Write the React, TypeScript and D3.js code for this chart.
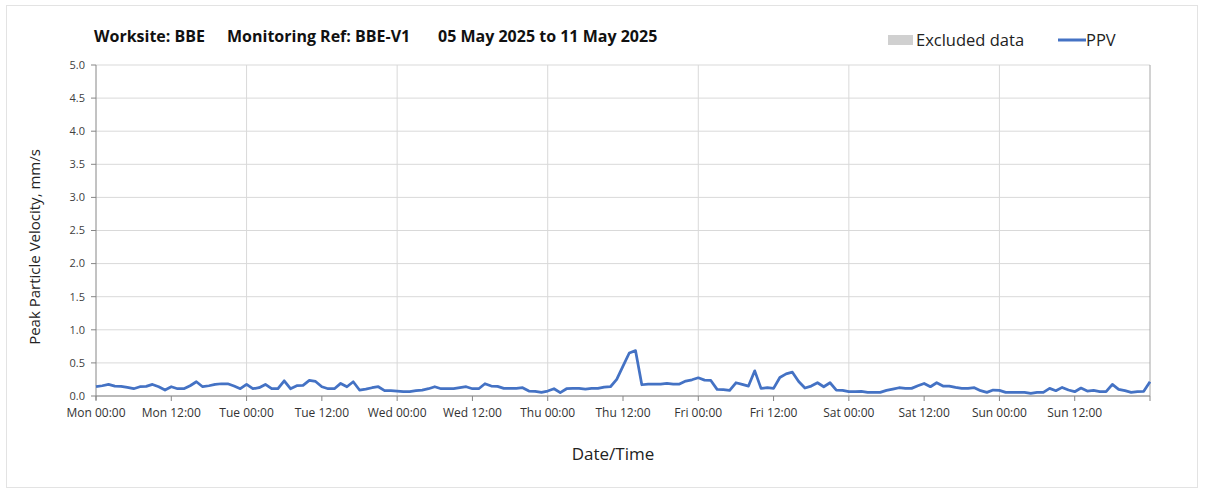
import React from "react";
import * as d3 from "d3";

const titleParts = ["Worksite: BBE", "Monitoring Ref: BBE-V1", "05 May 2025 to 11 May 2025"];
const legendLabels = ["Excluded data", "PPV"];
const yTicks = [0, 0.5, 1, 1.5, 2, 2.5, 3, 3.5, 4, 4.5, 5];
const dayNames = ["Mon", "Tue", "Wed", "Thu", "Fri", "Sat", "Sun"];
const startTime = new Date(2025, 4, 5, 0, 0);
const endTime = new Date(2025, 4, 12, 0, 0);

// Hourly PPV values (mm/s), 05 May 00:00 to 12 May 00:00
const ppvValues = [
  0.14, 0.155, 0.175, 0.15, 0.145, 0.13, 0.11, 0.14, 0.145, 0.175, 0.14, 0.09,
  0.14, 0.11, 0.11, 0.155, 0.215, 0.14, 0.155, 0.175, 0.185, 0.185, 0.15, 0.11,
  0.175, 0.11, 0.125, 0.175, 0.11, 0.11, 0.23, 0.11, 0.155, 0.16, 0.235, 0.22,
  0.14, 0.11, 0.11, 0.19, 0.14, 0.215, 0.09, 0.105, 0.125, 0.14, 0.08, 0.08,
  0.075, 0.065, 0.065, 0.08, 0.09, 0.11, 0.14, 0.11, 0.11, 0.11, 0.125, 0.14,
  0.11, 0.11, 0.185, 0.15, 0.145, 0.115, 0.115, 0.115, 0.125, 0.075, 0.07, 0.055,
  0.075, 0.11, 0.05, 0.11, 0.115, 0.115, 0.105, 0.115, 0.115, 0.135, 0.14, 0.25,
  0.45, 0.65, 0.685, 0.17, 0.18, 0.18, 0.18, 0.19, 0.18, 0.18, 0.225, 0.245,
  0.275, 0.24, 0.235, 0.1, 0.095, 0.085, 0.2, 0.175, 0.15, 0.38, 0.115, 0.125,
  0.115, 0.28, 0.335, 0.36, 0.22, 0.12, 0.15, 0.2, 0.14, 0.2, 0.09, 0.085,
  0.065, 0.065, 0.07, 0.055, 0.055, 0.055, 0.085, 0.105, 0.125, 0.115, 0.115, 0.155,
  0.19, 0.14, 0.2, 0.15, 0.15, 0.13, 0.115, 0.115, 0.125, 0.08, 0.055, 0.09,
  0.085, 0.055, 0.055, 0.055, 0.055, 0.04, 0.055, 0.055, 0.115, 0.08, 0.13, 0.09,
  0.065, 0.12, 0.075, 0.085, 0.065, 0.065, 0.175, 0.1, 0.08, 0.055, 0.065, 0.07,
  0.215,
];

const W = 1208;
const H = 490;
const left = 96;
const right = 1150;
const top = 65;
const bottom = 396;
const FONT = "'Open Sans', 'DejaVu Sans', sans-serif";

export default function App() {
  const x = d3.scaleTime().domain([startTime, endTime]).range([left, right]);
  const y = d3.scaleLinear().domain([0, 5]).range([bottom, top]);
  const data = ppvValues.map((v, i) => ({ t: d3.timeHour.offset(startTime, i), v }));
  const line = d3
    .line<{ t: Date; v: number }>()
    .x((d) => x(d.t))
    .y((d) => y(d.v));
  const dayTicks = d3.timeDay.range(startTime, endTime);
  const halfDayTicks = d3.timeHour.every(12)!.range(startTime, endTime);
  const allTickPositions = d3.timeHour.every(12)!.range(startTime, d3.timeHour.offset(endTime, 1));
  const fmtLabel = (d: Date) => {
    const day = dayNames[(d.getDay() + 6) % 7];
    return `${day} ${d3.timeFormat("%H:%M")(d)}`;
  };

  return (
    <div style={{ position: "absolute", left: 0, top: 0, width: W, height: H, background: "#fff" }}>
      <svg width={W} height={H} style={{ display: "block" }} fontFamily={FONT}>
        <rect x={6.5} y={5.5} width={1191} height={482} fill="#fff" stroke="#e3e3e3" />
        {/* horizontal gridlines */}
        {yTicks.map((t) => (
          <line key={"hg" + t} x1={left} x2={right} y1={y(t)} y2={y(t)} stroke="#d9d9d9" strokeWidth={1} />
        ))}
        {/* vertical gridlines */}
        {dayTicks.slice(1).map((d) => (
          <line key={"vg" + d.getTime()} x1={x(d)} x2={x(d)} y1={top} y2={bottom} stroke="#d9d9d9" strokeWidth={1} />
        ))}
        <line x1={right} x2={right} y1={top} y2={bottom} stroke="#a6a6a6" strokeWidth={1} />
        {/* y axis */}
        <line x1={left} x2={left} y1={top} y2={bottom + 4} stroke="#868686" strokeWidth={1} />
        {yTicks.map((t) => (
          <g key={"yt" + t}>
            <line x1={left - 5} x2={left} y1={y(t)} y2={y(t)} stroke="#868686" />
            <text x={left - 11} y={y(t)} dy="0.35em" textAnchor="end" fontSize={11} fill="#404040">
              {t.toFixed(1)}
            </text>
          </g>
        ))}
        {/* x axis */}
        <line x1={left} x2={right} y1={bottom} y2={bottom} stroke="#868686" strokeWidth={1} />
        {allTickPositions.map((d) => (
          <line key={"xt" + d.getTime()} x1={x(d)} x2={x(d)} y1={bottom} y2={bottom + 5} stroke="#868686" />
        ))}
        {halfDayTicks.map((d) => (
          <text key={"xl" + d.getTime()} x={x(d)} y={413} dy="0.35em" textAnchor="middle" fontSize={12} fill="#333">
            {fmtLabel(d)}
          </text>
        ))}
        {/* data line */}
        <path d={line(data) || ""} fill="none" stroke="#4472C4" strokeWidth={2.75} strokeLinejoin="round" />
        {/* titles */}
        <text x={94} y={42} fontSize={16} fontWeight="bold" fill="#111">{titleParts[0]}</text>
        <text x={227} y={42} fontSize={16} fontWeight="bold" fill="#111">{titleParts[1]}</text>
        <text x={438} y={42} fontSize={16} fontWeight="bold" fill="#111">{titleParts[2]}</text>
        {/* legend */}
        <rect x={888} y={35} width={25} height={10} fill="#d0d0d0" />
        <text x={916} y={46} fontSize={16.5} fill="#222">{legendLabels[0]}</text>
        <line x1={1058} x2={1086} y1={40} y2={40} stroke="#4472C4" strokeWidth={3} />
        <text x={1086} y={46} fontSize={16.5} fill="#222">{legendLabels[1]}</text>
        {/* axis titles */}
        <text transform="translate(40,247) rotate(-90)" textAnchor="middle" fontSize={15} fill="#222">
          Peak Particle Velocity, mm/s
        </text>
        <text x={613} y={460} textAnchor="middle" fontSize={17} fill="#222">Date/Time</text>
      </svg>
    </div>
  );
}
